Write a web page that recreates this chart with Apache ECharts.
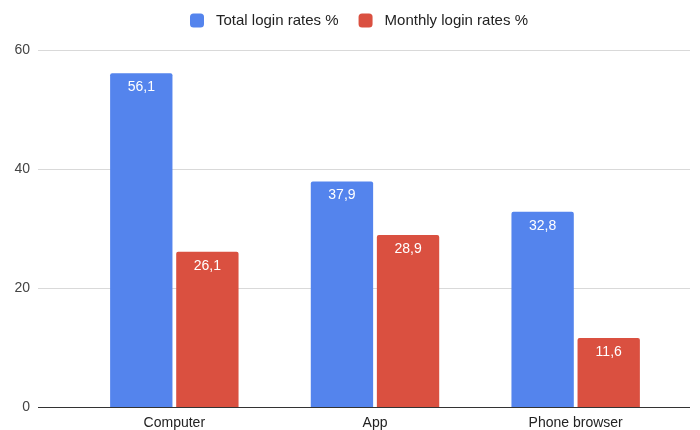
<!DOCTYPE html>
<html>
<head>
<meta charset="utf-8">
<script src="https://cdn.jsdelivr.net/npm/echarts@6/dist/echarts.min.js"></script>
<style>html,body{margin:0;padding:0;background:#fff}#c{width:700px;height:430px}</style>
</head>
<body>
<div id="c"></div>
<script>
const categories = ['Computer', 'App', 'Phone browser'];
const totalRates = [56.1, 37.9, 32.8];
const monthlyRates = [26.1, 28.9, 11.6];
const seriesNames = ['Total login rates %', 'Monthly login rates %'];
const yTicks = { min: 0, max: 60, interval: 20 };

const FONT = 'Liberation Sans, Arial, sans-serif';
const chart = echarts.init(document.getElementById('c'), null, { renderer: 'canvas' });
const labelCfg = {
  show: true, position: 'insideTop', distance: 7, color: '#fff',
  fontSize: 14, fontFamily: FONT,
  formatter: p => String(p.value).replace('.', ',')
};
chart.setOption({
  animation: false,
  legend: {
    top: 8, left: 185, itemWidth: 14, itemHeight: 14, itemGap: 20,
    icon: 'roundRect',
    textStyle: { fontSize: 15, color: '#222', fontFamily: FONT, padding: [0, 0, 0, 7] },
    data: seriesNames
  },
  grid: [
    { left: 38, right: 10, top: 50, bottom: 23 },
    { left: 74, right: 24, top: 50, bottom: 23 }
  ],
  xAxis: [
    { type: 'category', gridIndex: 0, data: categories, show: false },
    {
      type: 'category', gridIndex: 1, data: categories,
      axisLine: { show: false }, axisTick: { show: false },
      axisLabel: { color: '#222', fontSize: 14, fontFamily: FONT, margin: 9 }
    }
  ],
  yAxis: [
    {
      type: 'value', gridIndex: 0, min: yTicks.min, max: yTicks.max, interval: yTicks.interval,
      axisLine: { show: false }, axisTick: { show: false },
      axisLabel: { color: '#444', fontSize: 14, fontFamily: FONT, margin: 8 },
      splitLine: { lineStyle: { color: '#d9d9d9', width: 1 } }
    },
    {
      type: 'value', gridIndex: 1, min: yTicks.min, max: yTicks.max, interval: yTicks.interval,
      show: false, splitLine: { show: false }
    }
  ],
  series: [
    {
      name: 'axis0', type: 'line', xAxisIndex: 0, yAxisIndex: 0, data: [],
      markLine: {
        silent: true, symbol: 'none', label: { show: false },
        lineStyle: { color: '#333', width: 1, type: 'solid' },
        data: [{ yAxis: 0 }]
      }
    },
    {
      name: seriesNames[0], type: 'bar', xAxisIndex: 1, yAxisIndex: 1,
      data: totalRates, barCategoryGap: '36%', barGap: '6%',
      itemStyle: { color: '#5484ed', borderRadius: [2, 2, 0, 0] },
      label: labelCfg, z: 3
    },
    {
      name: seriesNames[1], type: 'bar', xAxisIndex: 1, yAxisIndex: 1,
      data: monthlyRates, barCategoryGap: '36%', barGap: '6%',
      itemStyle: { color: '#da5040', borderRadius: [2, 2, 0, 0] },
      label: labelCfg, z: 3
    }
  ]
});
</script>
</body>
</html>
